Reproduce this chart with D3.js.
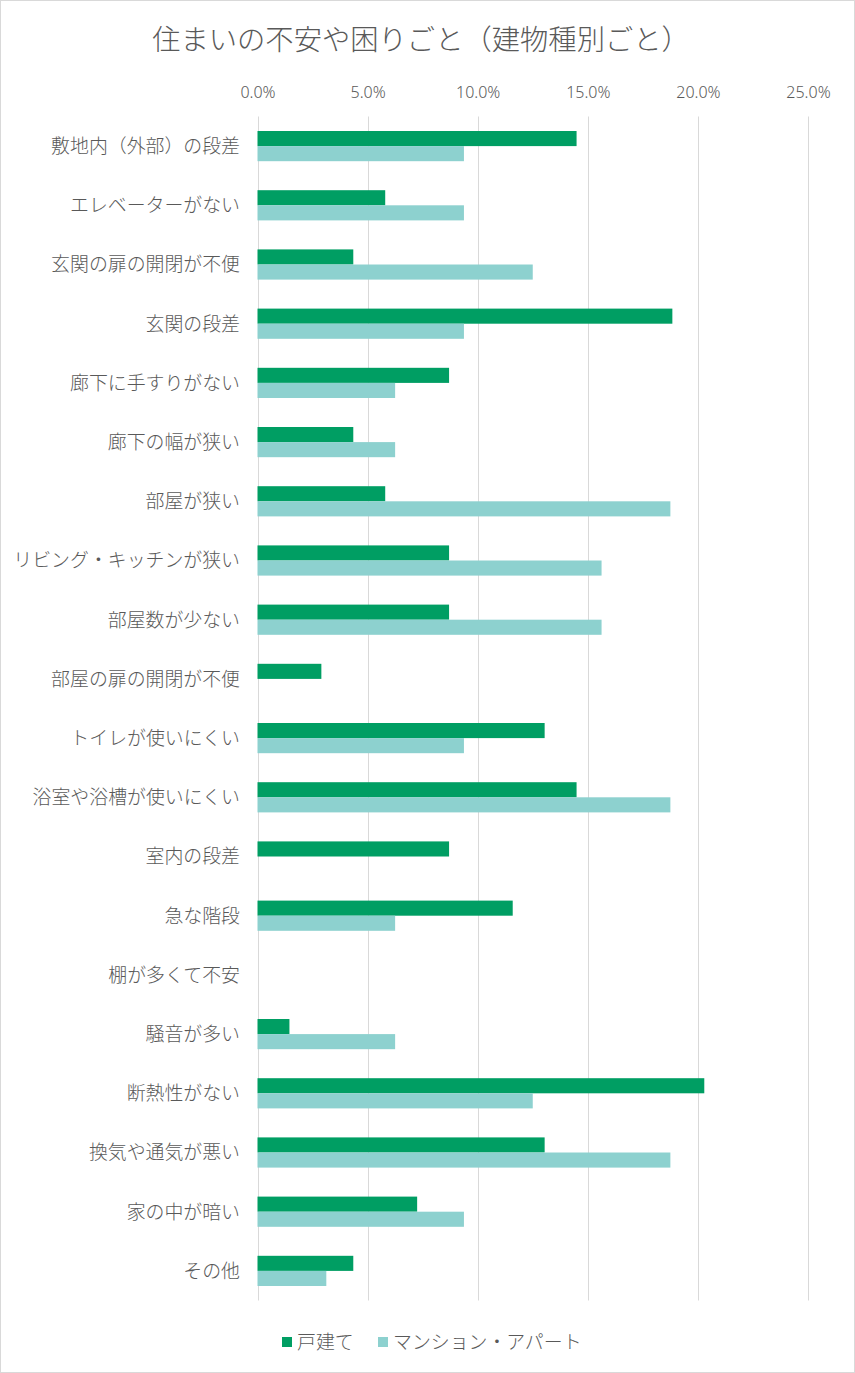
<!DOCTYPE html>
<html lang="ja">
<head>
<meta charset="UTF-8">
<title>住まいの不安や困りごと</title>
<style>
  html, body { margin: 0; padding: 0; background: #fff; }
  svg { display: block; font-family: "Noto Sans CJK JP", "Noto Sans", sans-serif; font-weight: 300; }
</style>
</head>
<body>
<svg id="chart"></svg>
<script src="https://cdnjs.cloudflare.com/ajax/libs/d3/7.8.5/d3.min.js"></script>
<script>
// categories, top to bottom
const categories = [
  '敷地内（外部）の段差', 'エレベーターがない', '玄関の扉の開閉が不便', '玄関の段差',
  '廊下に手すりがない', '廊下の幅が狭い', '部屋が狭い', 'リビング・キッチンが狭い',
  '部屋数が少ない', '部屋の扉の開閉が不便', 'トイレが使いにくい', '浴室や浴槽が使いにくい',
  '室内の段差', '急な階段', '棚が多くて不安', '騒音が多い',
  '断熱性がない', '換気や通気が悪い', '家の中が暗い', 'その他'
];
// percent values
const detached = [14.49, 5.80, 4.35, 18.84, 8.70, 4.35, 5.80, 8.70, 8.70, 2.90,
                  13.04, 14.49, 8.70, 11.59, 0, 1.45, 20.29, 13.04, 7.25, 4.35];
const apartment = [9.375, 9.375, 12.5, 9.375, 6.25, 6.25, 18.75, 15.625, 15.625, 0,
                   9.375, 18.75, 0, 6.25, 0, 6.25, 12.5, 18.75, 9.375, 3.125];
const seriesNames = ['戸建て', 'マンション・アパート'];
const ticks = [0, 5, 10, 15, 20, 25];

const W = 855, H = 1373;
const colors = ['#009e63', '#8dd1cf'];
const textColor = '#595959';

const svg = d3.select('#chart').attr('width', W).attr('height', H);

// chart border
svg.append('rect')
  .attr('x', 0.5).attr('y', 0.5)
  .attr('width', W - 1).attr('height', H - 1)
  .attr('fill', '#fff').attr('stroke', '#d9d9d9');

const x = d3.scaleLinear().domain([0, 25]).range([257.5, 808]);
const y = d3.scaleBand().domain(categories).range([116.5, 1300.5]).paddingInner(0.49).paddingOuter(0.245);
const ySub = d3.scaleBand().domain([0, 1]).range([0, y.bandwidth()]);

// title
svg.append('text')
  .attr('x', 421).attr('y', 50)
  .attr('text-anchor', 'middle')
  .attr('fill', textColor)
  .style('font-size', '28.3px')
  .text('住まいの不安や困りごと（建物種別ごと）');

// gridlines
svg.append('g').selectAll('line').data(ticks).join('line')
  .attr('x1', d => Math.round(x(d)) + 0.5).attr('x2', d => Math.round(x(d)) + 0.5)
  .attr('y1', 116.5).attr('y2', 1300.5)
  .attr('stroke', '#d9d9d9').attr('stroke-width', 1);

// top axis labels
const xAxis = d3.axisTop(x).tickValues(ticks).tickFormat(d => d.toFixed(1) + '%').tickSize(0);
const gx = svg.append('g').attr('transform', 'translate(0,98)').call(xAxis);
gx.select('.domain').remove();
gx.selectAll('text')
  .attr('y', 0).attr('dy', 0)
  .attr('fill', textColor)
  .style('font-family', '"Noto Sans", sans-serif')
  .style('font-weight', 300)
  .style('font-size', '16px');

// category labels
const yAxis = d3.axisLeft(y).tickSize(0).tickPadding(0);
const gy = svg.append('g').attr('transform', 'translate(240,0)').call(yAxis);
gy.select('.domain').remove();
gy.selectAll('text')
  .attr('fill', textColor)
  .attr('dy', '0.36em')
  .style('font-family', '"Noto Sans CJK JP", sans-serif')
  .style('font-weight', 300)
  .style('font-size', '18.9px');

// bars
const rows = categories.map((c, i) => ({ c, v: [detached[i], apartment[i]] }));
const groups = svg.append('g').selectAll('g').data(rows).join('g')
  .attr('transform', d => `translate(0,${y(d.c)})`);
groups.selectAll('rect').data(d => d.v.map((v, k) => ({ v, k }))).join('rect')
  .attr('x', x(0))
  .attr('y', d => ySub(d.k))
  .attr('width', d => x(d.v) - x(0))
  .attr('height', ySub.bandwidth())
  .attr('fill', d => colors[d.k]);

// legend
const legend = svg.append('g').attr('transform', 'translate(0,1342)');
const legendX = [282, 378];
seriesNames.forEach((name, k) => {
  legend.append('rect')
    .attr('x', legendX[k]).attr('y', -5)
    .attr('width', 10).attr('height', 10)
    .attr('fill', colors[k]);
  legend.append('text')
    .attr('x', legendX[k] + 15).attr('y', 0)
    .attr('dy', '0.36em')
    .attr('fill', textColor)
    .style('font-size', '18.9px')
    .text(name);
});
</script>
</body>
</html>
